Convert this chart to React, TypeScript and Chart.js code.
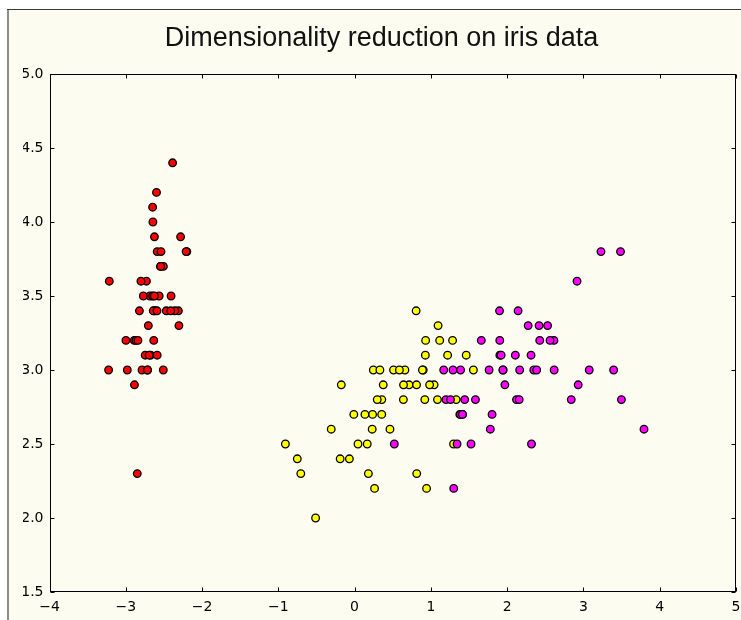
import React, { useEffect, useRef } from "react";
import { Chart, registerables } from "chart.js";

Chart.register(...registerables);

const TITLE = "Dimensionality reduction on iris data";

const setosaX = [-2.684, -2.714, -2.889, -2.745, -2.729, -2.281, -2.821, -2.626, -2.886, -2.673, -2.507, -2.613, -2.787, -3.225, -2.644, -2.386, -2.624, -2.648, -2.199, -2.588, -2.310, -2.544, -3.216, -2.303, -2.356, -2.508, -2.469, -2.562, -2.640, -2.633, -2.588, -2.410, -2.648, -2.597, -2.693, -2.866, -2.625, -2.801, -2.980, -2.590, -2.770, -2.849, -2.998, -2.406, -2.209, -2.716, -2.538, -2.840, -2.543, -2.704];
const setosaY = [3.5, 3.0, 3.2, 3.1, 3.6, 3.9, 3.4, 3.4, 2.9, 3.1, 3.7, 3.4, 3.0, 3.0, 4.0, 4.4, 3.9, 3.5, 3.8, 3.8, 3.4, 3.7, 3.6, 3.3, 3.4, 3.0, 3.4, 3.5, 3.4, 3.2, 3.1, 3.4, 4.1, 4.2, 3.1, 3.2, 3.5, 3.6, 3.0, 3.4, 3.5, 2.3, 3.2, 3.5, 3.8, 3.0, 3.8, 3.2, 3.7, 3.3];

const versicolorX = [1.285, 0.932, 1.464, 0.181, 1.087, 0.640, 1.095, -0.751, 1.043, -0.010, -0.511, 0.511, 0.262, 0.984, -0.174, 0.928, 0.660, 0.236, 0.944, 0.045, 1.116, 0.357, 1.298, 0.921, 0.715, 0.900, 1.332, 1.558, 0.813, -0.306, -0.068, -0.189, 0.136, 1.380, 0.588, 0.807, 1.220, 0.815, 0.246, 0.166, 0.464, 0.890, 0.231, -0.705, 0.356, 0.332, 0.376, 0.642, -0.907, 0.297];
const versicolorY = [3.2, 3.2, 3.1, 2.3, 2.8, 2.8, 3.3, 2.4, 2.9, 2.7, 2.0, 3.0, 2.2, 2.9, 2.9, 3.1, 3.0, 2.7, 2.2, 2.5, 3.2, 2.8, 2.5, 2.8, 2.9, 3.0, 2.8, 3.0, 2.9, 2.6, 2.4, 2.4, 2.7, 2.7, 3.0, 3.4, 3.1, 2.3, 3.0, 2.5, 2.6, 3.0, 2.6, 2.3, 2.7, 3.0, 2.9, 2.9, 2.5, 2.8];

const virginicaX = [2.531, 1.415, 2.617, 1.971, 2.350, 3.397, 0.521, 2.932, 2.320, 2.917, 1.662, 1.803, 2.165, 1.344, 1.585, 1.904, 1.949, 3.487, 3.795, 1.300, 2.428, 1.198, 3.499, 1.388, 2.276, 2.614, 1.258, 1.291, 2.123, 2.388, 2.841, 3.231, 2.159, 1.444, 1.780, 3.077, 2.144, 1.905, 1.169, 2.108, 2.314, 1.922, 1.415, 2.563, 2.419, 1.944, 1.527, 1.764, 1.901, 1.390];
const virginicaY = [3.3, 2.7, 3.0, 2.9, 3.0, 3.0, 2.5, 2.9, 2.5, 3.6, 3.2, 2.7, 3.0, 2.5, 2.8, 3.2, 3.0, 3.8, 2.6, 2.2, 3.2, 2.8, 2.8, 2.7, 3.3, 3.2, 2.8, 3.0, 2.8, 3.0, 2.8, 3.8, 2.8, 2.8, 2.6, 3.0, 3.4, 3.1, 3.0, 3.1, 3.1, 3.1, 2.7, 3.2, 3.3, 3.0, 2.5, 3.0, 3.4, 3.0];

const xTickValues = [-4, -3, -2, -1, 0, 1, 2, 3, 4, 5];
const xTickLabels = ["\u22124", "\u22123", "\u22122", "\u22121", "0", "1", "2", "3", "4", "5"];
const yTickValues = [1.5, 2.0, 2.5, 3.0, 3.5, 4.0, 4.5, 5.0];
const yTickLabels = ["1.5", "2.0", "2.5", "3.0", "3.5", "4.0", "4.5", "5.0"];

const IVORY = "#fcfcf0";

const toPoints = (xs: number[], ys: number[]) => xs.map((x, i) => ({ x, y: ys[i] }));

const framePlugin = {
  id: "frame",
  beforeDraw(chart: any) {
    const { ctx, width, height } = chart;
    ctx.save();
    ctx.fillStyle = "#ffffff";
    ctx.fillRect(0, 0, width, height);
    ctx.fillStyle = IVORY;
    ctx.fillRect(7, 9, width - 7, height - 9);
    ctx.fillStyle = "#8c8c8c";
    ctx.fillRect(7, 9, 2, height - 9);
    ctx.fillStyle = "#3a3a3a";
    ctx.fillRect(7, 9, width - 7, 1);
    ctx.restore();
  },
  afterDraw(chart: any) {
    const { ctx, chartArea } = chart;
    const { left, right, top, bottom } = chartArea;
    const xs = chart.scales.x;
    const ys = chart.scales.y;
    ctx.save();
    ctx.strokeStyle = "#000000";
    ctx.lineWidth = 1;
    const L = Math.round(left) + 0.5;
    const R = Math.round(right) - 0.5;
    const T = Math.round(top) + 0.5;
    const B = Math.round(bottom) - 0.5;
    ctx.strokeRect(L, T, R - L, B - T);
    ctx.beginPath();
    xTickValues.forEach((v) => {
      const px = Math.round(xs.getPixelForValue(v)) + 0.5;
      ctx.moveTo(px, B);
      ctx.lineTo(px, B - 4);
      ctx.moveTo(px, T);
      ctx.lineTo(px, T + 4);
    });
    yTickValues.forEach((v) => {
      const py = Math.round(ys.getPixelForValue(v)) + 0.5;
      ctx.moveTo(L, py);
      ctx.lineTo(L + 4, py);
      ctx.moveTo(R, py);
      ctx.lineTo(R - 4, py);
    });
    ctx.stroke();
    ctx.restore();
  },
};

export default function App() {
  const ref = useRef<HTMLCanvasElement | null>(null);

  useEffect(() => {
    document.body.style.margin = "0";
    const canvas = ref.current;
    if (!canvas) return;
    const mk = (label: string, xs: number[], ys: number[], color: string, order: number) => ({
      label,
      data: toPoints(xs, ys),
      backgroundColor: color,
      borderColor: "#000000",
      borderWidth: 1.3,
      pointRadius: 3.8,
      pointHoverRadius: 3.8,
      order,
    });
    const chart = new Chart(canvas, {
      type: "scatter",
      data: {
        datasets: [
          mk("setosa", setosaX, setosaY, "#ff0000", 3),
          mk("versicolor", versicolorX, versicolorY, "#ffff00", 2),
          mk("virginica", virginicaX, virginicaY, "#ff00ff", 1),
        ],
      },
      options: {
        responsive: false,
        animation: false,
        devicePixelRatio: 1,
        layout: { padding: { left: 23, right: 1, top: 0, bottom: 0 } },
        plugins: {
          legend: { display: false },
          tooltip: { enabled: false },
          title: {
            display: true,
            text: TITLE,
            color: "#111111",
            font: { family: "Liberation Sans", size: 27, weight: "normal", lineHeight: 1.2 },
            padding: { top: 22, bottom: 19.6 },
          },
        },
        scales: {
          x: {
            type: "linear",
            min: -4,
            max: 5,
            afterBuildTicks: (scale: any) => {
              scale.ticks = xTickValues.map((v) => ({ value: v }));
            },
            afterFit: (scale: any) => {
              scale.height = 28;
              scale.paddingLeft = 0;
              scale.paddingRight = 0;
            },
            grid: { display: false, drawTicks: false },
            border: { display: false },
            ticks: {
              color: "#000000",
              font: { family: "DejaVu Sans", size: 14 },
              padding: 7,
              maxRotation: 0,
              autoSkip: false,
              callback: (v: any) => {
                const i = xTickValues.indexOf(Number(v));
                return i >= 0 ? xTickLabels[i] : "";
              },
            },
          },
          y: {
            type: "linear",
            min: 1.5,
            max: 5.0,
            afterBuildTicks: (scale: any) => {
              scale.ticks = yTickValues.map((v) => ({ value: v }));
            },
            afterFit: (scale: any) => {
              scale.width = 26.5;
              scale.paddingTop = 0;
              scale.paddingBottom = 0;
            },
            grid: { display: false, drawTicks: false },
            border: { display: false },
            ticks: {
              color: "#000000",
              font: { family: "DejaVu Sans", size: 14 },
              padding: 6,
              autoSkip: false,
              callback: (v: any) => {
                const i = yTickValues.indexOf(Number(v));
                return i >= 0 ? yTickLabels[i] : "";
              },
            },
          },
        },
      },
      plugins: [framePlugin],
    } as any);
    return () => chart.destroy();
  }, []);

  return (
    <div style={{ width: 741, height: 620, position: "relative", overflow: "hidden" }}>
      <canvas ref={ref} width={741} height={620} style={{ display: "block", width: 741, height: 620 }} />
    </div>
  );
}
